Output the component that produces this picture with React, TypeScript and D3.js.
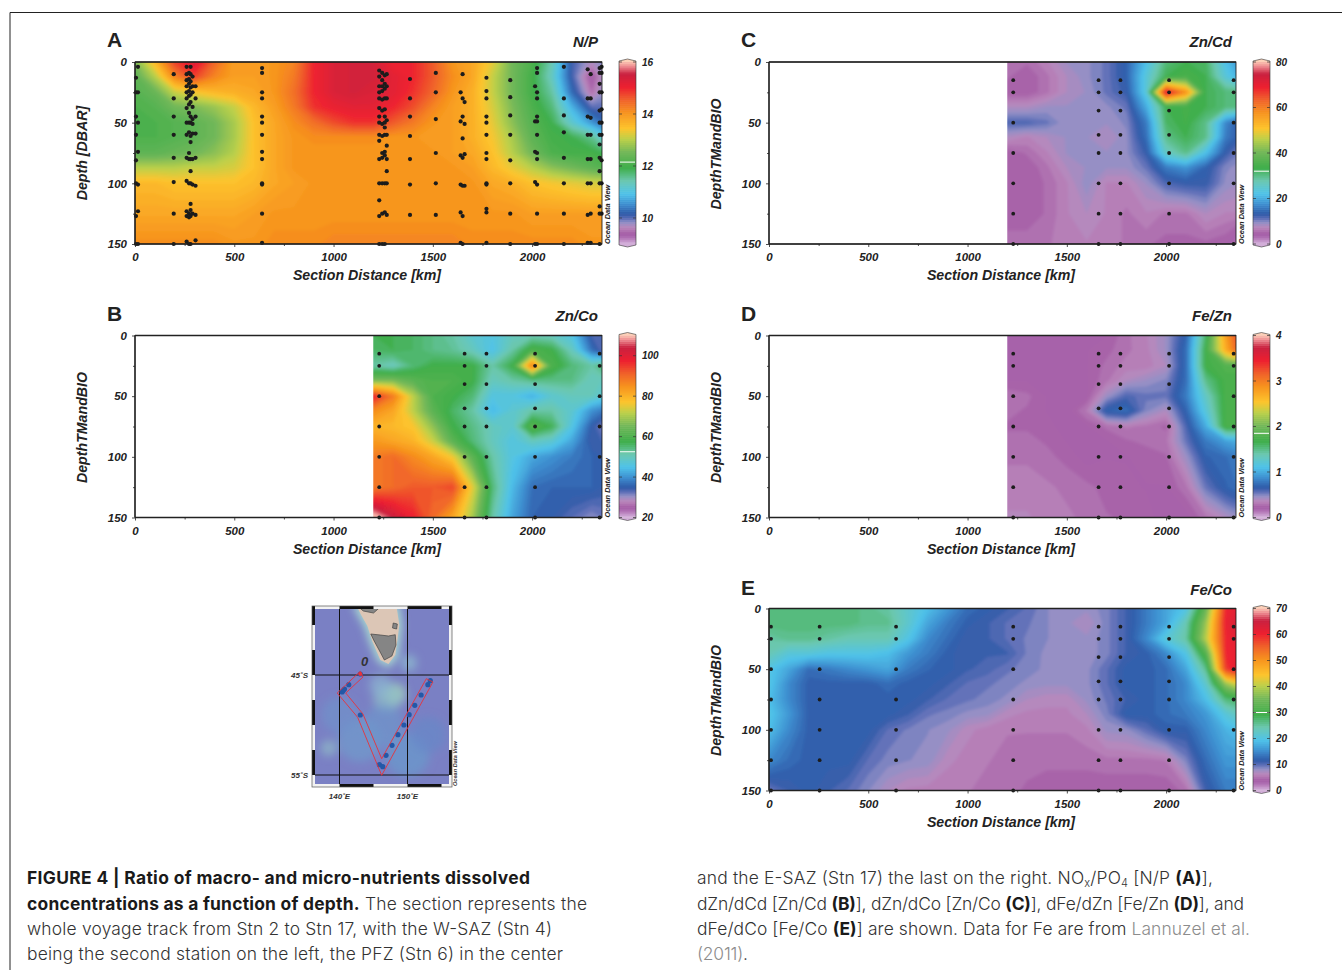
import { useEffect, useRef } from 'react';
import * as d3 from 'd3';

// grid rows / columns the ratios were read on
const depthRows = [0, 12, 25, 37, 50, 62, 75, 87, 100, 125, 150];
const fullKm = [0, 100, 200, 300, 400, 500, 600, 700, 800, 900, 1000, 1100, 1200, 1300, 1400, 1500, 1600, 1700, 1800, 1900, 2000, 2100, 2200, 2300, 2350];
const partKm = [1200, 1300, 1400, 1500, 1600, 1700, 1800, 1900, 2000, 2100, 2200, 2300, 2350];

const npValues = [
  [12.6, 13.6, 14.8, 15.3, 14.5, 13.9, 13.9, 14, 14.2, 15, 15.3, 15.4, 15.4, 15, 15, 14.6, 14, 13.8, 13.3, 12.5, 12.1, 11.4, 10.1, 9.7, 9.9],
  [12.3, 13, 14.2, 14.8, 14.2, 13.9, 13.9, 14, 14.3, 15, 15.3, 15.4, 15.4, 15.2, 15, 14.6, 14.1, 13.8, 13.1, 12.5, 12, 11.3, 10.1, 9.3, 9.7],
  [12.2, 12.4, 13.1, 13.4, 13.6, 13.7, 13.8, 14, 14.4, 15, 15.3, 15.4, 15.3, 15.2, 14.9, 14.5, 14, 13.7, 13.1, 12.5, 12, 11.5, 10.3, 9.5, 9.8],
  [12.1, 12.2, 12.5, 12.6, 12.8, 13.1, 13.6, 13.9, 14.3, 14.9, 15.1, 15.2, 15.2, 15, 14.7, 14.2, 13.9, 13.7, 13.2, 12.6, 12.1, 11.7, 10.8, 10, 10],
  [12.1, 12.1, 12.2, 12.3, 12.5, 12.9, 13.5, 13.8, 14.1, 14.4, 14.7, 14.9, 14.9, 14.6, 14.3, 14, 13.9, 13.7, 13.3, 12.7, 12.2, 11.9, 11.2, 10.6, 10.3],
  [12.1, 12.1, 12.2, 12.3, 12.5, 12.9, 13.5, 13.8, 14, 14.1, 14.1, 14.1, 14.1, 14, 14, 13.9, 13.9, 13.7, 13.4, 12.9, 12.3, 12, 11.9, 11.6, 11.2],
  [12.3, 12.3, 12.4, 12.5, 12.7, 13, 13.5, 13.8, 14, 14, 14, 14, 14, 14, 14, 14, 13.9, 13.8, 13.5, 13, 12.5, 12.1, 12, 12, 11.9],
  [13, 13, 13, 13.1, 13.1, 13.2, 13.5, 13.8, 14, 14, 14, 14, 14, 14, 14, 14, 14, 13.9, 13.6, 13.3, 13, 12.7, 12.5, 12.3, 12.2],
  [13.6, 13.6, 13.5, 13.5, 13.5, 13.5, 13.6, 13.8, 13.9, 14, 14, 14, 14, 14, 14, 14, 14, 14, 13.8, 13.7, 13.5, 13.4, 13.3, 13.2, 13.2],
  [13.8, 13.8, 13.8, 13.8, 13.8, 13.8, 13.9, 14, 14, 14, 14, 14, 14, 14, 14, 14, 14, 14, 14, 14, 13.9, 13.9, 13.9, 13.9, 13.9],
  [14.1, 14.1, 14.1, 14.1, 14.1, 14, 14, 14.1, 14.1, 14.1, 14.2, 14.2, 14.2, 14.2, 14.2, 14.2, 14.2, 14.1, 14.1, 14.1, 14.1, 14.1, 14.1, 14, 14],
];

const znCoValues = [
  [57, 57, 56, 54, 52, 48, 46, 50, 51, 50, 46, 34, 33],
  [56, 57, 56, 54, 53, 50, 45, 52, 60, 58, 50, 37, 33],
  [52, 50, 55, 58, 58, 58, 52, 58, 88, 60, 55, 52, 55],
  [66, 66, 62, 60, 60, 58, 50, 52, 54, 54, 54, 50, 50],
  [98, 88, 72, 60, 58, 55, 46, 46, 43, 48, 50, 50, 48],
  [86, 82, 72, 62, 56, 52, 44, 48, 52, 52, 48, 40, 38],
  [80, 79, 77, 68, 58, 54, 50, 48, 62, 57, 46, 35, 32],
  [84, 82, 80, 73, 62, 55, 50, 46, 50, 48, 42, 34, 34],
  [88, 90, 86, 82, 76, 62, 52, 46, 42, 40, 38, 36, 35],
  [88, 90, 92, 92, 94, 75, 55, 44, 37, 36, 36, 36, 35],
  [112, 104, 98, 90, 82, 70, 52, 42, 36, 35, 33, 31, 32],
];

const znCdValues = [
  [6, 5.5, 7, 9, 9.5, 11, 14, 22, 31, 33, 32, 22, 19],
  [5.5, 4.5, 6, 8, 9.5, 11, 14, 24, 33, 35, 33, 24, 21],
  [4.5, 4.5, 6, 8, 9, 11, 13, 24, 72, 58, 33, 31, 31],
  [8, 8, 9, 9, 9, 9.5, 11, 20, 33, 34, 33, 31, 31],
  [12, 12, 11, 9, 9, 9, 10, 16, 32, 34, 30, 17, 14],
  [8, 7, 8, 9, 9, 8, 9.5, 15, 30, 33, 30, 16, 14],
  [4.5, 5.5, 7, 9, 9, 9, 9.5, 13, 26, 30, 22, 13, 11],
  [4.5, 4.5, 6, 8, 9, 9, 9, 11, 16, 18, 14, 10, 9.5],
  [4.5, 4.5, 5.5, 7, 9.5, 7, 7, 9, 12, 13, 13, 9.5, 9],
  [4.5, 4.5, 5.5, 7, 8, 7, 6, 7, 6, 6, 8, 7, 7],
  [6, 6, 6, 7, 7, 7, 6, 5.5, 5, 5, 5, 4.5, 3],
];

const feZnValues = [
  [0.22, 0.22, 0.2, 0.2, 0.2, 0.22, 0.3, 0.35, 0.45, 0.7, 1.6, 2.8, 3.2],
  [0.22, 0.22, 0.22, 0.2, 0.22, 0.25, 0.3, 0.34, 0.45, 0.75, 1.7, 2.7, 3.1],
  [0.22, 0.22, 0.22, 0.2, 0.22, 0.28, 0.33, 0.33, 0.4, 0.75, 1.7, 1.8, 1.8],
  [0.22, 0.22, 0.22, 0.2, 0.22, 0.3, 0.4, 0.45, 0.5, 0.75, 1.5, 1.75, 1.75],
  [0.3, 0.28, 0.22, 0.2, 0.22, 0.45, 0.6, 0.55, 0.55, 0.8, 1.3, 1.75, 1.75],
  [0.28, 0.26, 0.22, 0.2, 0.32, 0.7, 0.75, 0.5, 0.4, 0.7, 1.2, 1.75, 1.75],
  [0.26, 0.26, 0.24, 0.2, 0.22, 0.28, 0.32, 0.3, 0.25, 0.6, 1, 1.75, 1.75],
  [0.28, 0.28, 0.26, 0.22, 0.2, 0.22, 0.26, 0.28, 0.3, 0.55, 0.8, 0.95, 1],
  [0.3, 0.3, 0.28, 0.25, 0.2, 0.22, 0.22, 0.24, 0.26, 0.45, 0.7, 0.75, 0.8],
  [0.34, 0.34, 0.32, 0.3, 0.28, 0.25, 0.23, 0.22, 0.22, 0.3, 0.55, 0.7, 0.75],
  [0.36, 0.36, 0.34, 0.32, 0.3, 0.27, 0.26, 0.24, 0.2, 0.2, 0.3, 0.4, 0.45],
];

const feCoValues = [
  [27, 27, 27, 27, 27, 26, 25, 22, 19, 16, 13, 12, 11, 10, 8.6, 8, 8, 9, 11, 14, 17, 20, 34, 60, 62],
  [27, 27, 27, 27, 27, 26, 26, 22, 17, 14, 12, 11, 10, 9.5, 8.6, 8, 7, 9, 11, 14, 17, 24, 38, 61, 63],
  [25, 26, 26, 25, 24, 24, 24, 20, 15, 13, 11, 11, 10, 9.2, 8.6, 8, 8, 9, 11, 15, 21, 25, 40, 60, 62],
  [24, 21, 21, 20, 20, 20, 19, 16, 14, 12, 11, 11, 11, 9.2, 8.3, 8, 8, 9, 11, 12, 15, 20, 32, 60, 61],
  [20, 17, 13, 14, 15, 16, 17, 14, 12.5, 12, 11, 10.5, 9.5, 9, 8.3, 8, 8.3, 10, 12, 12, 13, 17, 26, 58, 62],
  [20, 15, 12, 12, 12, 12, 13, 12, 12, 11, 10, 9.5, 9, 8.3, 8, 8, 8.3, 10, 12, 12, 13, 15, 22, 38, 42],
  [19, 15, 12, 12, 12, 12, 12, 12, 11, 10, 9.5, 9, 8.3, 7, 6.5, 6.5, 8, 9.5, 11, 12, 13, 15, 19, 27, 28],
  [20, 16, 12, 12, 12, 12, 12, 11, 9.5, 9, 8.3, 8, 6.5, 6, 6, 6, 7, 9, 12, 12, 13, 14, 16, 21, 23],
  [19, 15, 12, 12, 12, 12, 10, 9.2, 8.6, 8, 6.5, 5.8, 5.5, 5.5, 5.5, 5.5, 6, 8, 8.3, 10, 12, 12, 15, 18, 19],
  [15, 13, 12, 12, 12, 10, 9, 8.6, 8.3, 6.5, 5.8, 5.5, 5.2, 5, 5, 5, 5, 5.2, 5.2, 5.2, 5.5, 9, 13, 16, 16],
  [9.5, 11, 12, 11, 10, 8.6, 7, 6, 5.8, 5.5, 5.5, 5.2, 5, 4.5, 4, 4, 4, 4, 4, 4, 4, 5, 11, 14, 14],
];

// sample positions: [section distance, depths]
const npCasts: [number, number[]][] = [
  [5, [13, 25, 45, 60, 81, 100, 127, 150]],
  [15, [4, 25, 50, 74, 101, 123, 150]],
  [195, [10, 30, 45, 60, 79, 99, 125, 150]],
  [260, [4, 10, 15, 20, 25, 30, 38, 50, 60, 79, 98, 123, 127, 148]],
  [272, [9, 14, 18, 24, 28, 35, 42, 50, 58, 75, 80, 100, 125, 128, 150]],
  [280, [4, 10, 16, 21, 27, 33, 45, 50, 61, 66, 80, 90, 100, 117, 122, 127, 150]],
  [290, [12, 20, 25, 37, 47, 51, 59, 80, 101, 125]],
  [305, [20, 30, 45, 59, 79, 102, 126, 147]],
  [640, [5, 9, 25, 30, 45, 50, 60, 74, 80, 100, 101, 125, 149]],
  [1230, [7, 12, 20, 25, 30, 38, 45, 50, 60, 65, 80, 100, 114, 127, 150]],
  [1245, [9, 15, 20, 24, 31, 40, 51, 61, 75, 79, 100, 125, 150]],
  [1258, [11, 18, 22, 30, 39, 45, 50, 54, 60, 74, 77, 100, 124, 150]],
  [1268, [10, 20, 30, 48, 60, 69, 80, 90, 100, 126]],
  [1385, [14, 30, 45, 61, 80, 101, 126]],
  [1515, [9, 25, 47, 75, 100, 126]],
  [1640, [25, 49, 77, 101, 124, 149]],
  [1650, [10, 30, 45, 63, 79, 102, 127, 150]],
  [1660, [33, 51, 76, 102]],
  [1770, [13, 24, 30, 45, 50, 60, 75, 80, 100, 101, 121, 124, 149]],
  [1890, [15, 29, 44, 60, 81, 100, 125, 150]],
  [2015, [20, 49, 74, 99, 150]],
  [2025, [5, 9, 25, 30, 45, 49, 60, 75, 80, 101, 125, 150]],
  [2160, [4, 30, 44, 58, 79, 100, 125, 150]],
  [2280, [6, 30, 45, 60, 80, 100, 126, 149]],
  [2295, [10, 30, 46, 60, 80, 100, 125, 149]],
  [2340, [5, 9, 18, 25, 40, 50, 60, 68, 79, 90, 100, 119, 125, 150]],
  [2350, [4, 9, 25, 39, 50, 60, 81, 100, 125]],
];
const eastCasts: [number, number[]][] = [
  [1230, [15, 25, 50, 75, 100, 125, 150]],
  [1660, [15, 25, 40, 60, 75, 100, 125, 150]],
  [1770, [15, 25, 40, 60, 75, 100, 125, 150]],
  [2015, [15, 25, 40, 60, 75, 100, 125, 150]],
  [2340, [15, 25, 50, 75, 100, 150]],
];
const westCasts: [number, number[]][] = [
  [10, [15, 25, 50, 75, 100, 125, 150]],
  [255, [15, 25, 50, 75, 100, 125, 150]],
  [640, [15, 25, 50, 75, 100, 125, 150]],
];

const kmTicks = [0, 500, 1000, 1500, 2000];
const kmMinorTicks = [250, 750, 1250, 1750, 2250];
const depthTicks = [0, 50, 100, 150];
const depthMinorTicks = [25, 75, 125];

// ODV rainbow, position along the bar from bottom to top
const paletteT = [0, 0.03, 0.05, 0.085, 0.115, 0.135, 0.16, 0.214, 0.271, 0.343, 0.414, 0.5, 0.571, 0.629, 0.714, 0.786, 0.857, 0.929, 0.971, 1];
const paletteColors = ['#d2aed8', '#b070b4', '#a45ca6', '#bb88bc', '#9090c6', '#5f6fb8', '#2f5aa8', '#3f8fd0', '#4fc3ea', '#6cc8b0', '#3fae4a', '#74b85a', '#bcd04a', '#fdc52e', '#f7941e', '#f0622a', '#ed2030', '#c9203f', '#ee8a90', '#fcd0b8'];
const palette = d3.scaleLinear<string>().domain(paletteT).range(paletteColors);

const panels = [
  { letter: 'A', title: 'N/P', yTitle: 'Depth [DBAR]', left: 135, top: 62, km: fullKm, values: npValues, domain: [9, 16], ticks: [10, 12, 14, 16], mark: 12.15, casts: npCasts, r: 2.1, headDy: 0 },
  { letter: 'B', title: 'Zn/Co', yTitle: 'DepthTMandBIO', left: 135, top: 335.5, km: partKm, values: znCoValues, domain: [20, 110], ticks: [20, 40, 60, 80, 100], mark: 52.5, casts: eastCasts, r: 1.9, headDy: 0 },
  { letter: 'C', title: 'Zn/Cd', yTitle: 'DepthTMandBIO', left: 769, top: 62, km: partKm, values: znCdValues, domain: [0, 80], ticks: [0, 20, 40, 60, 80], mark: 32, casts: eastCasts, r: 1.9, headDy: 0 },
  { letter: 'D', title: 'Fe/Zn', yTitle: 'DepthTMandBIO', left: 769, top: 335.5, km: partKm, values: feZnValues, domain: [0, 4], ticks: [0, 1, 2, 3, 4], mark: 1.85, casts: eastCasts, r: 1.9, headDy: 0 },
  { letter: 'E', title: 'Fe/Co', yTitle: 'DepthTMandBIO', left: 769, top: 608.5, km: fullKm, values: feCoValues, domain: [0, 70], ticks: [0, 10, 20, 30, 40, 50, 60, 70], mark: 30, casts: [...westCasts, ...eastCasts], r: 1.9, headDy: 1 },
];

// map: lon/lat outlines
const shelfOutline = [[142.6, -38.2], [148.4, -38.2], [148.8, -40], [148.5, -41.6], [148.2, -43], [147.2, -43.9], [146, -43.5], [144.8, -41.6], [144.1, -40.1], [143.1, -38.9]];
const tasmania = [[144.6, -40.9], [146, -41], [147.2, -41.1], [148.2, -40.97], [148.3, -42], [147.7, -43.1], [146.6, -43.5], [145.9, -42.6], [145.1, -41.6]];
const mainlandCoast = [[142.8, -38.2], [146, -38.2], [145, -38.8], [143.5, -38.6]];
const flinders = [[147.9, -39.8], [148.5, -39.9], [148.4, -40.4], [147.8, -40.3]];
const cruiseTrack = [[143.06, -44.63], [143.45, -45.2], [140.92, -46.8], [143.45, -48.9], [146.2, -53.37], [152.77, -45.37], [153.74, -45.7], [146.2, -55.03], [142.67, -49.23], [139.66, -46.8]];
const mapStations = [[141.36, -45.97], [140.73, -46.4], [140.39, -46.7], [140.55, -46.55], [143.06, -49], [146.84, -53.03], [147.72, -52.03], [148.59, -50.97], [149.47, -50], [150.24, -48.97], [151.07, -48.03], [152, -47], [153, -45.97], [153.35, -45.57], [145.87, -53.97], [146.36, -54.17], [143.06, -44.9]];
const shallows: [number, number, number, string][] = [
  [148.2, -46.9, 11, '#a8d8b8'], [147, -47.3, 14, '#8fbfc8'], [146, -46, 11, '#8cb4d0'], [150.2, -43.8, 8, '#90c0d0'],
  [138.4, -52.3, 8, '#90bcc8'], [143, -51.5, 22, '#6f9bcc'], [150, -53, 22, '#6a9acc'], [140, -49, 18, '#6f92ca'],
  [146.5, -50, 20, '#6d96cb'], [153, -51, 18, '#6688c8'],
];
const lonTicks = [140, 150];
const latTicks = [-45, -55];
// frame bars: black runs along the top/bottom (lon) and the sides (lat)
const frameLonBlack = [[140, 145], [150, 155]];
const frameLatBlack = [[-40, -37.5], [-45, -42.5], [-50, -47.5], [-55, -52.5]];

const captionLeft: [string, boolean][][] = [
  [['FIGURE 4 | Ratio of macro- and micro-nutrients dissolved', true]],
  [['concentrations as a function of depth.', true], [' The section represents the', false]],
  [['whole voyage track from Stn 2 to Stn 17, with the W-SAZ (Stn 4)', false]],
  [['being the second station on the left, the PFZ (Stn 6) in the center', false]],
];
const captionLeftWidths = [503, 560, 525, 536];
const captionRightWidths = [516, 547, 553, 51];

const plotW = 467;
const plotH = 182;
const sans = 'Liberation Sans, Arial, sans-serif';

const App = () => {
  const ref = useRef<SVGSVGElement>(null);

  useEffect(() => {
    const svg = d3.select(ref.current);
    svg.selectAll('*').remove();
    const defs = svg.append('defs');
    defs.append('filter').attr('id', 'soft').append('feGaussianBlur').attr('stdDeviation', 1.8);
    defs.append('filter').attr('id', 'softMap').append('feGaussianBlur').attr('stdDeviation', 4);

    svg.append('path').attr('d', 'M10,970V12.5H1342').attr('fill', 'none').attr('stroke', '#222').attr('stroke-width', 1);

    panels.forEach((p, pi) => {
      const g = svg.append('g').attr('transform', `translate(${p.left},${p.top})`);
      const x = d3.scaleLinear().domain([0, 2352]).range([0, plotW]);
      const y = d3.scaleLinear().domain([0, 150]).range([0, plotH]);
      const toT = d3.scaleLinear().domain(p.domain).range([0, 1]);

      // contour coordinates -> data; half a cell past the grid is pushed out so the blur has no soft rim
      const m = p.km.length;
      const n = depthRows.length;
      const pad = 8;
      const cx = d3.scaleLinear()
        .domain([0, ...p.km.map((_, i) => i + 0.5), m])
        .range([x(p.km[0]) - pad, ...p.km.map(k => x(k)), plotW + pad]);
      const cy = d3.scaleLinear()
        .domain([0, ...depthRows.map((_, i) => i + 0.5), n])
        .range([-pad, ...depthRows.map(d => y(d)), plotH + pad]);
      const path = d3.geoPath(d3.geoTransform({
        point(a: number, b: number) { (this as any).stream.point(cx(a), cy(b)); },
      }));

      const levels = d3.range(0, 90).map(i => p.domain[0] + (i / 90) * (p.domain[1] - p.domain[0]));
      const contours = d3.contours().size([m, n]).thresholds(levels)(p.values.flat());

      const clipId = `clip${pi}`;
      defs.append('clipPath').attr('id', clipId).append('rect')
        .attr('x', x(p.km[0])).attr('y', 0).attr('width', plotW - x(p.km[0])).attr('height', plotH);
      g.append('g').attr('clip-path', `url(#${clipId})`)
        .append('g').attr('filter', 'url(#soft)')
        .selectAll('path').data(contours).join('path')
        .attr('d', (d: any) => path(d))
        .attr('fill', (d: any) => palette(toT(d.value)));

      // samples
      g.append('g').selectAll('circle')
        .data(p.casts.flatMap(([km, ds]) => ds.map(d => [km, d])))
        .join('circle')
        .attr('cx', d => x(d[0]))
        .attr('cy', d => y(d[1]))
        .attr('r', p.r)
        .attr('fill', '#1c1c1c');

      g.append('rect').attr('width', plotW).attr('height', plotH).attr('fill', 'none').attr('stroke', '#111').attr('stroke-width', 0.8);
      g.append('path').attr('d', `M0,0H${plotW}M0,${plotH}H${plotW}M0,0V${plotH}`).attr('stroke', '#222').attr('stroke-width', 1.4);

      // axes
      const styleAxis = (a: any) => {
        a.select('.domain').remove();
        a.selectAll('line').attr('stroke', '#222').attr('stroke-width', 0.8);
        a.selectAll('text').attr('font-family', sans).attr('font-size', 11.5).attr('font-weight', 700)
          .attr('font-style', 'italic').attr('fill', '#222');
      };
      g.append('g').attr('transform', `translate(0,${plotH})`)
        .call(d3.axisBottom(x).tickValues(kmTicks).tickFormat(d3.format('d') as any).tickSize(3).tickPadding(6)).call(styleAxis);
      g.append('g').attr('transform', `translate(0,${plotH})`)
        .call(d3.axisBottom(x).tickValues(kmMinorTicks).tickFormat(() => '').tickSize(2)).call(styleAxis);
      g.append('g')
        .call(d3.axisLeft(y).tickValues(depthTicks).tickSize(3).tickPadding(5)).call(styleAxis);
      g.append('g')
        .call(d3.axisLeft(y).tickValues(depthMinorTicks).tickFormat(() => '').tickSize(2)).call(styleAxis);

      const label = (txt: string, size: number) => g.append('text').text(txt)
        .attr('font-family', sans).attr('font-weight', 700).attr('font-style', 'italic')
        .attr('font-size', size).attr('fill', '#222');

      label('Section Distance [km]', 14.2).attr('x', 232).attr('y', plotH + 36).attr('text-anchor', 'middle');
      label(p.title, 15).attr('x', plotW - 4).attr('y', -15 + p.headDy).attr('text-anchor', 'end');
      label(p.yTitle, 14.2).attr('transform', `translate(-48,${plotH / 2 - (p.yTitle === 'Depth [DBAR]' ? 0 : -1)}) rotate(-90)`).attr('text-anchor', 'middle');
      label('Ocean Data View', 7.4).attr('transform', `translate(${plotW + 7.5},${plotH}) rotate(-90)`).attr('x', 0);
      g.append('text').text(p.letter).attr('x', -28).attr('y', -15 + p.headDy).attr('font-family', sans)
        .attr('font-weight', 700).attr('font-size', 21).attr('fill', '#222');

      // colour bar
      const barX = plotW + 17;
      const barW = 17;
      const bar = g.append('g').attr('transform', `translate(${barX},0)`);
      const barY = d3.scaleLinear().domain(p.domain).range([plotH, 0]);
      bar.selectAll('rect').data(levels)
        .join('rect')
        .attr('x', 0).attr('width', barW)
        .attr('y', d => barY(d) - plotH / 90 - 0.3).attr('height', plotH / 90 + 0.6)
        .attr('fill', d => palette(toT(d)));
      // end caps
      const capTop = d3.line()([[0, 0], [0, -1], [barW / 2, -3], [barW, -1], [barW, 0]]) as string;
      const capBottom = d3.line()([[0, plotH], [0, plotH + 1], [barW / 2, plotH + 3], [barW, plotH + 1], [barW, plotH]]) as string;
      bar.append('path').attr('d', capTop + 'Z').attr('fill', palette(1));
      bar.append('path').attr('d', capBottom + 'Z').attr('fill', palette(0));
      bar.append('path')
        .attr('d', `M0,0V-1L${barW / 2},-3L${barW},-1V${plotH + 1}L${barW / 2},${plotH + 3}L0,${plotH + 1}Z`)
        .attr('fill', 'none').attr('stroke', '#333').attr('stroke-width', 0.6);
      bar.append('line').attr('x1', 1).attr('x2', barW - 1).attr('y1', barY(p.mark)).attr('y2', barY(p.mark)).attr('stroke', '#fff').attr('stroke-width', 1);
      p.ticks.forEach(t => {
        bar.append('path').attr('d', `M0,${barY(t)}h3M${barW},${barY(t)}h-3`).attr('stroke', '#333').attr('stroke-width', 0.7);
        bar.append('text').text(t).attr('x', barW + 6).attr('y', barY(t)).attr('dy', '0.35em')
          .attr('font-family', sans).attr('font-weight', 700).attr('font-style', 'italic').attr('font-size', 10).attr('fill', '#222');
      });
    });

    // station map
    const lon = d3.scaleLinear().domain([140, 150]).range([339.5, 407.5]);
    const lat = d3.scaleLinear().domain([-45, -55]).range([675, 775]);
    const mapBox = { x: 312, y: 606, w: 140, h: 181 };
    defs.append('clipPath').attr('id', 'mapClip').append('rect')
      .attr('x', mapBox.x).attr('y', mapBox.y).attr('width', mapBox.w).attr('height', mapBox.h);
    const map = svg.append('g').attr('clip-path', 'url(#mapClip)');
    const line = d3.line().x(d => lon(d[0])).y(d => lat(d[1]));
    map.append('rect').attr('x', mapBox.x).attr('y', mapBox.y).attr('width', mapBox.w).attr('height', mapBox.h).attr('fill', '#7a80c4');
    const soft = map.append('g').attr('filter', 'url(#softMap)');
    soft.selectAll('circle').data(shallows).join('circle')
      .attr('cx', d => lon(d[0])).attr('cy', d => lat(d[1])).attr('r', d => d[2]).attr('fill', d => d[3]).attr('opacity', 0.7);
    soft.append('path').attr('d', line(shelfOutline as any) + 'Z').attr('fill', '#a8d8d0').attr('stroke', '#a8d8d0').attr('stroke-width', 6);
    map.append('path').attr('d', line(shelfOutline as any) + 'Z').attr('fill', '#dcc6b6');
    [tasmania, mainlandCoast, flinders].forEach(outline => {
      map.append('path').attr('d', line(outline as any) + 'Z').attr('fill', '#858585').attr('stroke', '#444').attr('stroke-width', 0.7);
    });
    map.append('g').selectAll('path').data(lonTicks).join('path')
      .attr('d', d => `M${lon(d)},${mapBox.y}V${mapBox.y + mapBox.h}`).attr('stroke', '#111').attr('stroke-width', 1);
    map.append('g').selectAll('path').data(latTicks).join('path')
      .attr('d', d => `M${mapBox.x},${lat(d)}H${mapBox.x + mapBox.w}`).attr('stroke', '#111').attr('stroke-width', 1);
    map.append('g').selectAll('circle').data(mapStations).join('circle')
      .attr('cx', d => lon(d[0])).attr('cy', d => lat(d[1])).attr('r', 2.6).attr('fill', '#2358a8');
    map.append('path').attr('d', line(cruiseTrack as any) + 'Z').attr('fill', 'none').attr('stroke', '#e8323a').attr('stroke-width', 0.9);
    map.append('circle').attr('cx', lon(143.06)).attr('cy', lat(-44.9)).attr('r', 2).attr('fill', '#e8323a');

    // frame: white strips with black runs
    const strip = 3;
    const frame = svg.append('g').attr('clip-path', 'url(#mapClip)');
    [mapBox.y, mapBox.y + mapBox.h - strip].forEach(yy => {
      frame.append('rect').attr('x', mapBox.x).attr('y', yy).attr('width', mapBox.w).attr('height', strip).attr('fill', '#f2f2f2');
      frame.append('g').selectAll('rect').data(frameLonBlack).join('rect')
        .attr('x', d => lon(d[0])).attr('width', d => lon(d[1]) - lon(d[0])).attr('y', yy).attr('height', strip).attr('fill', '#111');
    });
    [mapBox.x, mapBox.x + mapBox.w - strip].forEach(xx => {
      frame.append('rect').attr('x', xx).attr('y', mapBox.y).attr('width', strip).attr('height', mapBox.h).attr('fill', '#f2f2f2');
      frame.append('g').selectAll('rect').data(frameLatBlack).join('rect')
        .attr('y', d => lat(d[1])).attr('height', d => lat(d[0]) - lat(d[1])).attr('x', xx).attr('width', strip).attr('fill', '#111');
    });
    svg.append('rect').attr('x', mapBox.x).attr('y', mapBox.y).attr('width', mapBox.w).attr('height', mapBox.h)
      .attr('fill', 'none').attr('stroke', '#555').attr('stroke-width', 0.7);

    const mapText = (txt: string, size: number) => svg.append('text').text(txt).attr('font-family', sans)
      .attr('font-weight', 700).attr('font-style', 'italic').attr('font-size', size).attr('fill', '#333');
    latTicks.forEach(l => mapText(`${-l}˚S`, 8).attr('x', 308).attr('y', lat(l) + 3).attr('text-anchor', 'end'));
    lonTicks.forEach(l => mapText(`${l}˚E`, 8).attr('x', lon(l)).attr('y', 799).attr('text-anchor', 'middle'));
    mapText('0', 13).attr('x', 364.5).attr('y', 666).attr('text-anchor', 'middle');
    mapText('Ocean Data View', 5.6).attr('transform', `translate(457,786) rotate(-90)`);

    // caption
    const cap = svg.append('g').attr('font-family', 'Inter, Roboto, Liberation Sans, sans-serif').attr('font-size', 17.4);
    const capLine = (xx: number, yy: number, w: number) => cap.append('text').attr('x', xx).attr('y', yy).attr('textLength', w);
    const lineY = [884, 910, 935, 960];
    captionLeft.forEach((runs, i) => {
      const t = capLine(27, lineY[i], captionLeftWidths[i]);
      runs.forEach(([s, b]) => t.append('tspan').text(s).attr('font-weight', b ? 700 : 300).attr('fill', b ? '#1a1a1a' : '#333'));
    });
    const rt = (i: number) => capLine(697, lineY[i], captionRightWidths[i]).attr('font-weight', 300).attr('fill', '#333');
    const add = (t: any, s: string, o: any = {}) => {
      const sp = t.append('tspan').text(s);
      Object.entries(o).forEach(([k, v]) => sp.attr(k, v as any));
      return t;
    };
    const bold = { 'font-weight': 700, fill: '#1a1a1a' };
    let t = rt(0);
    add(t, 'and the E-SAZ (Stn 17) the last on the right. NO');
    add(t, 'x', { 'font-size': 11, dy: 3 });
    add(t, '/PO', { dy: -3 });
    add(t, '4', { 'font-size': 11, dy: 3 });
    add(t, ' [N/P ', { dy: -3 });
    add(t, '(A)', bold);
    add(t, '],');
    t = rt(1);
    add(t, 'dZn/dCd [Zn/Cd ');
    add(t, '(B)', bold);
    add(t, '], dZn/dCo [Zn/Co ');
    add(t, '(C)', bold);
    add(t, '], dFe/dZn [Fe/Zn ');
    add(t, '(D)', bold);
    add(t, '], and');
    t = rt(2);
    add(t, 'dFe/dCo [Fe/Co ');
    add(t, '(E)', bold);
    add(t, '] are shown. Data for Fe are from ');
    add(t, 'Lannuzel et al.', { fill: '#8c8c8c' });
    t = rt(3);
    add(t, '(2011)', { fill: '#8c8c8c' });
    add(t, '.');
  }, []);

  return <svg ref={ref} width={1342} height={970} style={{ position: 'absolute', left: 0, top: 0, background: '#fff' }} />;
};

export default App;
